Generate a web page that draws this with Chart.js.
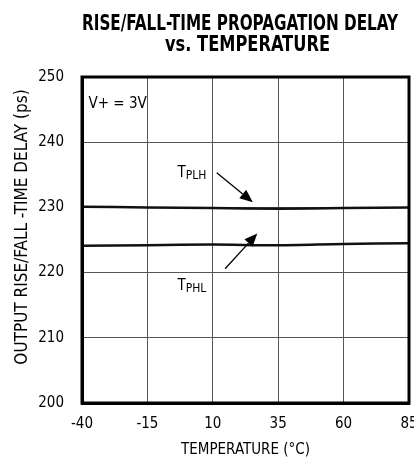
<!DOCTYPE html>
<html>
<head>
<meta charset="utf-8">
<script src="https://cdn.jsdelivr.net/npm/chart.js@4.4.1/dist/chart.umd.min.js"></script>
<style>
  html, body { margin: 0; padding: 0; background: #fff; }
  #wrap { width: 414px; height: 462px; }
</style>
</head>
<body>
<div id="wrap"><canvas id="delayChart" width="414" height="462"></canvas></div>
<script>
// temperature points (°C) and delays (ps)
const temps = [-40, -15, 10, 35, 60, 85];
const tplh = [230.1, 230.0, 229.9, 229.8, 229.9, 230.0];
const tphl = [224.1, 224.2, 224.3, 224.2, 224.4, 224.5];
const xTicks = [-40, -15, 10, 35, 60, 85];
const yTicks = [200, 210, 220, 230, 240, 250];

const FONT = "'Liberation Sans Narrow', 'DejaVu Sans Condensed', 'Liberation Sans', sans-serif";
const TITLE_FONT = "'DejaVu Sans Condensed', 'Liberation Sans', sans-serif";

// labels and arrows placed in data units
const notes = [
  { text: 'V+ = 3V', sub: '', x: -37.5, y: 245.8 },
  { text: 'T', sub: 'PLH', x: -3.5, y: 235.3 },
  { text: 'T', sub: 'PHL', x: -3.5, y: 217.9 }
];
const arrows = [
  { from: [11.5, 235.3], to: [25.3, 230.8] },
  { from: [14.7, 220.6], to: [27.0, 226.0] }
];

const extras = {
  id: 'extras',
  afterDraw(chart) {
    const { ctx, chartArea: a, scales: { x, y } } = chart;
    ctx.save();
    // heavy frame
    ctx.strokeStyle = '#000';
    ctx.lineWidth = 3;
    ctx.strokeRect(a.left, a.top, a.right - a.left, a.bottom - a.top);

    ctx.fillStyle = '#000';
    ctx.textBaseline = 'middle';
    ctx.textAlign = 'left';
    notes.forEach(n => {
      const px = x.getPixelForValue(n.x), py = y.getPixelForValue(n.y);
      ctx.font = '15px ' + FONT;
      ctx.fillText(n.text, px, py);
      if (n.sub) {
        const w = ctx.measureText(n.text).width;
        ctx.font = '12px ' + FONT;
        ctx.fillText(n.sub, px + w, py + 3);
      }
    });

    arrows.forEach(ar => {
      const x0 = x.getPixelForValue(ar.from[0]), y0 = y.getPixelForValue(ar.from[1]);
      const x1 = x.getPixelForValue(ar.to[0]), y1 = y.getPixelForValue(ar.to[1]);
      const ang = Math.atan2(y1 - y0, x1 - x0);
      const hl = 13, hw = 5.5;
      const bx = x1 - hl * Math.cos(ang), by = y1 - hl * Math.sin(ang);
      ctx.lineWidth = 1.3;
      ctx.beginPath();
      ctx.moveTo(x0, y0);
      ctx.lineTo(bx, by);
      ctx.stroke();
      ctx.beginPath();
      ctx.moveTo(x1, y1);
      ctx.lineTo(bx + hw * Math.sin(ang), by - hw * Math.cos(ang));
      ctx.lineTo(bx - hw * Math.sin(ang), by + hw * Math.cos(ang));
      ctx.closePath();
      ctx.fill();
    });

    // y axis title, sits a bit below the plot centre like the original
    ctx.save();
    ctx.translate(23, 227);
    ctx.rotate(-Math.PI / 2);
    ctx.textAlign = 'center';
    ctx.font = '17px ' + FONT;
    ctx.fillText('OUTPUT RISE/FALL -TIME DELAY (ps)', 0, 0, 285);
    ctx.restore();

    // two line condensed heading
    ctx.textAlign = 'center';
    ctx.font = 'bold 21px ' + TITLE_FONT;
    ctx.fillText('RISE/FALL-TIME PROPAGATION DELAY', 240, 25, 316);
    ctx.fillText('vs. TEMPERATURE', 247.5, 46, 165);
    ctx.restore();
  }
};

new Chart(document.getElementById('delayChart'), {
  type: 'line',
  data: {
    labels: temps,
    datasets: [
      {
        label: 'TPLH',
        data: temps.map((t, i) => ({ x: t, y: tplh[i] })),
        borderColor: '#111',
        borderWidth: 2.5,
        pointRadius: 0,
        tension: 0.3,
        fill: false
      },
      {
        label: 'TPHL',
        data: temps.map((t, i) => ({ x: t, y: tphl[i] })),
        borderColor: '#111',
        borderWidth: 2.5,
        pointRadius: 0,
        tension: 0.3,
        fill: false
      }
    ]
  },
  options: {
    responsive: false,
    animation: false,
    layout: { padding: { right: 5, left: 0, top: 77, bottom: 0 } },
    plugins: {
      legend: { display: false },
      tooltip: { enabled: false },
      title: { display: false }
    },
    scales: {
      x: {
        type: 'linear',
        min: -40,
        max: 85,
        afterBuildTicks: s => { s.ticks = xTicks.map(v => ({ value: v })); },
        afterFit: s => { s.height = 59; s.paddingLeft = 0; s.paddingRight = 0; },
        ticks: { color: '#000', font: { family: FONT, size: 15 }, padding: 12, maxRotation: 0 },
        grid: { color: '#555', lineWidth: 1, drawTicks: false },
        border: { color: '#000', width: 3 },
        title: {
          display: true,
          text: 'TEMPERATURE (°C)',
          color: '#000',
          font: { family: FONT, size: 15 },
          padding: { top: 0, bottom: 3 }
        }
      },
      y: {
        min: 200,
        max: 250,
        afterBuildTicks: s => { s.ticks = yTicks.map(v => ({ value: v })); },
        afterFit: s => { s.width = 82; s.paddingTop = 0; s.paddingBottom = 0; },
        ticks: { color: '#000', font: { family: FONT, size: 15 }, padding: 18 },
        grid: { color: '#555', lineWidth: 1, drawTicks: false },
        border: { color: '#000', width: 3 }
      }
    }
  },
  plugins: [extras]
});
</script>
</body>
</html>
